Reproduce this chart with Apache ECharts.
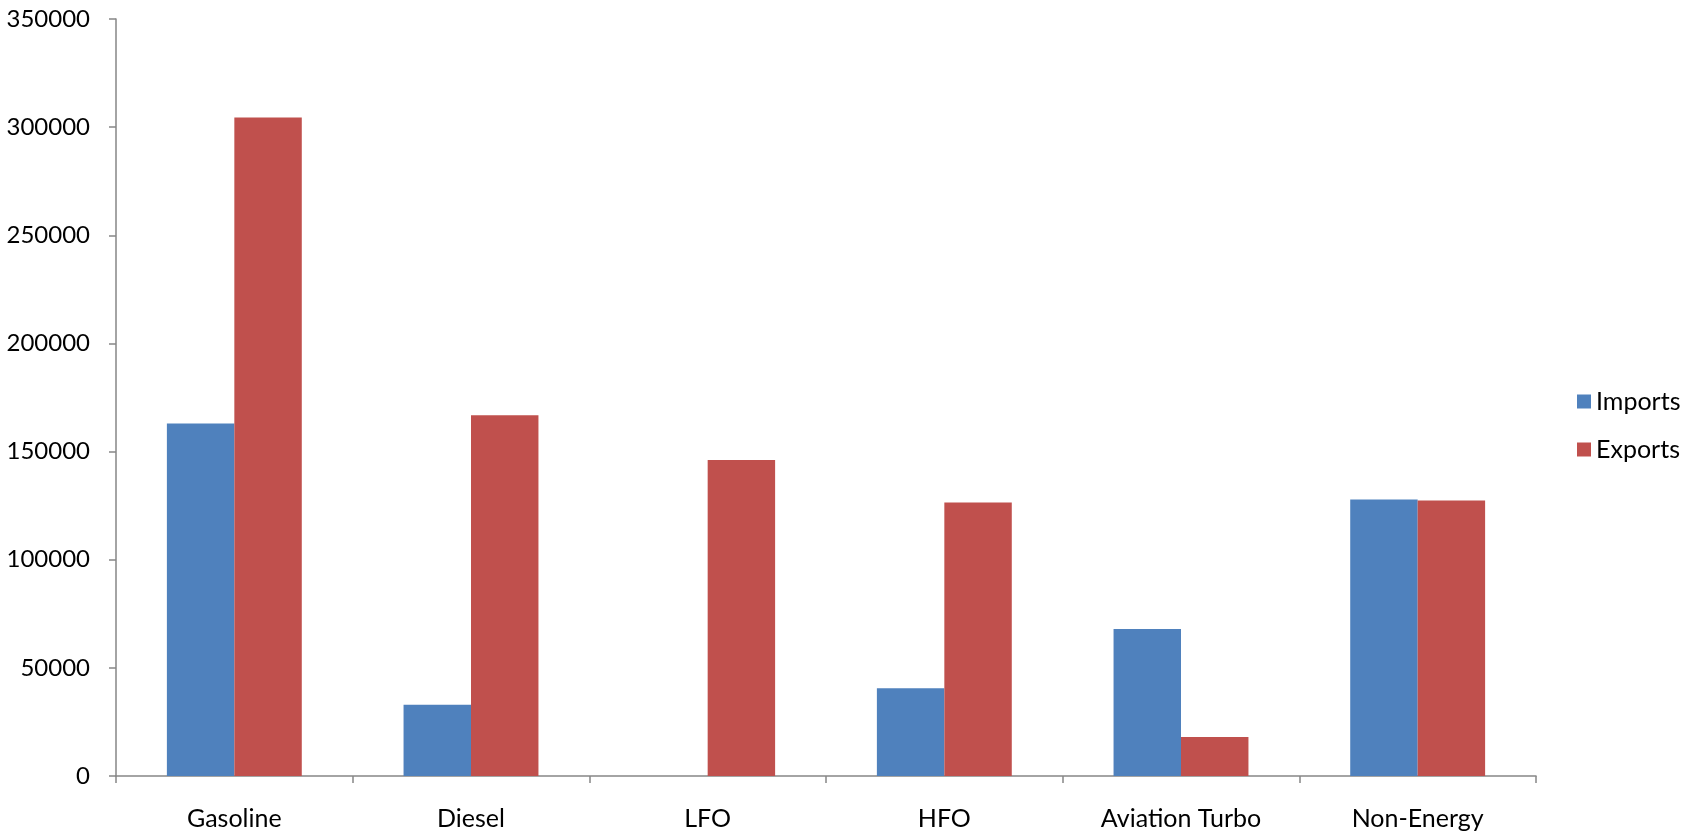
<!DOCTYPE html>
<html>
<head>
<meta charset="utf-8">
<script src="https://cdn.jsdelivr.net/npm/echarts@6/dist/echarts.min.js"></script>
<style>html,body{margin:0;padding:0;background:#fff}#c{width:1704px;height:836px}</style>
</head>
<body>
<div id="c"></div>
<script>
const categories = ['Gasoline', 'Diesel', 'LFO', 'HFO', 'Aviation Turbo', 'Non-Energy'];
const imports = [163000, 33000, 0, 40600, 68000, 127800];
const exports = [304500, 166800, 146100, 126500, 18000, 127400];
const yTicks = [0, 50000, 100000, 150000, 200000, 250000, 300000, 350000];

const chart = echarts.init(document.getElementById('c'), null, {renderer: 'canvas'});
const font = 'Lato, "Open Sans", sans-serif';
chart.setOption({
  animation: false,
  backgroundColor: '#ffffff',
  textStyle: {fontFamily: font},
  grid: {left: 116, right: 168, top: 19, bottom: 60, containLabel: false},
  legend: {
    orient: 'vertical',
    left: 1572,
    top: 384,
    itemWidth: 14,
    itemHeight: 14,
    itemGap: 23,
    icon: 'rect',
    textStyle: {fontSize: 25, lineHeight: 25, color: '#000', fontFamily: font},
    data: ['Imports', 'Exports']
  },
  xAxis: {
    type: 'category',
    data: categories,
    axisLine: {lineStyle: {color: '#868686', width: 1.5}},
    axisTick: {show: true, length: 7, alignWithLabel: false, lineStyle: {color: '#868686', width: 1.5}},
    axisLabel: {fontSize: 25, color: '#000', margin: 30, fontFamily: font},
    splitLine: {show: false}
  },
  yAxis: {
    type: 'value',
    min: yTicks[0],
    max: yTicks[yTicks.length - 1],
    interval: 50000,
    axisLine: {show: true, lineStyle: {color: '#868686', width: 1.5}},
    axisTick: {show: true, length: 7, lineStyle: {color: '#868686', width: 1.5}},
    axisLabel: {fontSize: 24, color: '#000', margin: 26, fontFamily: font,
      formatter: function (v) { return String(v); }},
    splitLine: {show: false}
  },
  series: [
    {name: 'Imports', type: 'bar', data: imports, barGap: '0%', barCategoryGap: '43%',
     itemStyle: {color: '#4F81BD'}},
    {name: 'Exports', type: 'bar', data: exports, barGap: '0%', barCategoryGap: '43%',
     itemStyle: {color: '#C0504D'}}
  ]
});
</script>
</body>
</html>
